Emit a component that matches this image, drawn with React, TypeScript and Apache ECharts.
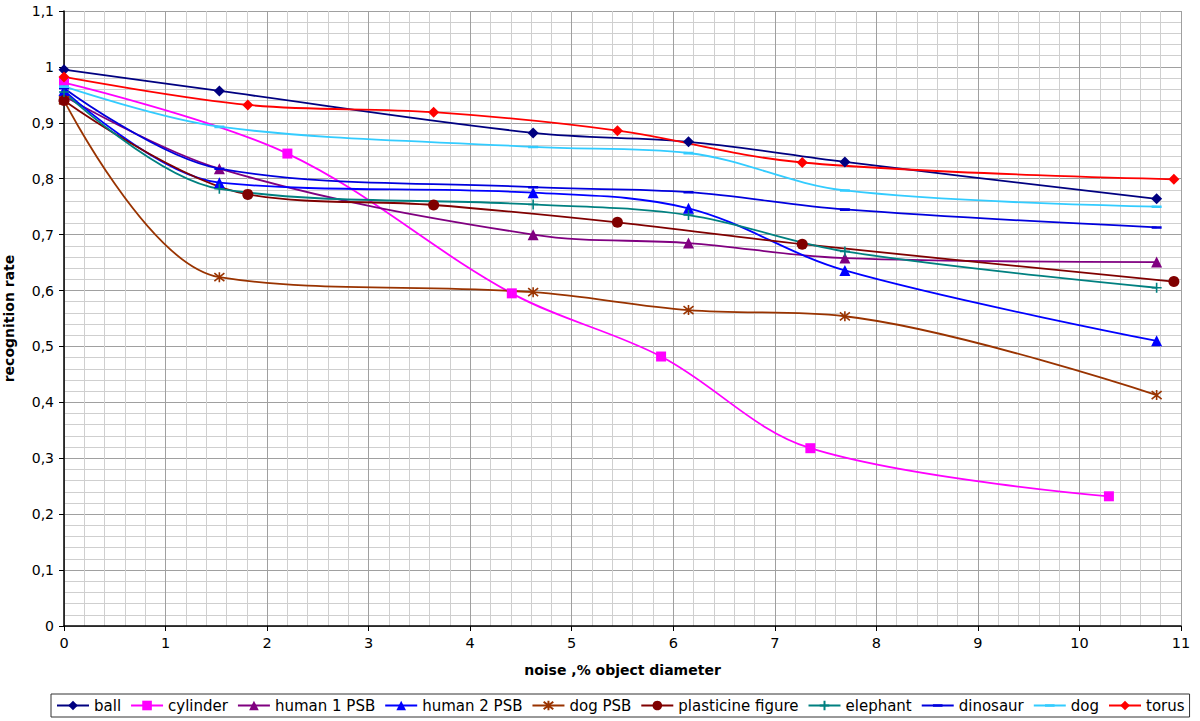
import React, { useEffect, useRef } from 'react';
import * as echarts from 'echarts';

// x positions (noise, % object diameter) used by the series
const xStd = [0, 1.53, 4.62, 6.15, 7.69, 10.76];
const xCyl = [0, 2.2, 4.41, 5.88, 7.35, 10.29];
const xPla = [0, 1.81, 3.64, 5.45, 7.27, 10.93];

// recognition rates
const ball = [0.995, 0.957, 0.882, 0.866, 0.83, 0.764];
const cylinder = [0.972, 0.845, 0.595, 0.482, 0.318, 0.232];
const human1 = [0.948, 0.818, 0.7, 0.685, 0.658, 0.651];
const human2 = [0.958, 0.793, 0.775, 0.747, 0.636, 0.51];
const dogPSB = [0.94, 0.624, 0.597, 0.565, 0.554, 0.413];
const plasticine = [0.94, 0.772, 0.753, 0.722, 0.683, 0.616];
const elephant = [0.955, 0.782, 0.754, 0.735, 0.67, 0.605];
const dinosaur = [0.962, 0.818, 0.785, 0.776, 0.745, 0.713];
const dog = [0.965, 0.893, 0.857, 0.846, 0.779, 0.75];
const torus = [0.982, 0.932, 0.919, 0.886, 0.829, 0.799];

const seriesNames = ['ball', 'cylinder', 'human 1 PSB', 'human 2 PSB', 'dog PSB', 'plasticine figure', 'elephant', 'dinosaur', 'dog', 'torus'];

const FONT = '"DejaVu Sans", Verdana, sans-serif';

const zip = (xs: number[], ys: number[]) => xs.map((x, i) => [x, ys[i]]);

const fmt = (v: number) => String(Math.round(v * 10) / 10).replace('.', ',');

export default function App() {
  const ref = useRef<HTMLDivElement>(null);
  useEffect(() => {
    if (!ref.current) return;
    const chart = echarts.init(ref.current, undefined, { renderer: 'svg' });

    const mk = (
      name: string,
      xs: number[],
      ys: number[],
      color: string,
      symbol: string,
      symbolSize: number,
      stroke = false
    ) => ({
      name,
      type: 'line',
      data: zip(xs, ys),
      smooth: 0.35,
      symbol,
      symbolSize,
      lineStyle: { color, width: 1.8 },
      itemStyle: stroke
        ? { color, borderColor: color, borderWidth: 1.6 }
        : { color, borderColor: color, borderWidth: 0 },
      emphasis: { disabled: true },
    });

    const star = 'path://M1,1L9,9M9,1L1,9M5,0L5,10';
    const plus = 'path://M5,0L5,10M0,5L10,5';
    const dash = 'path://M0,0L0.01,0L0.01,0.01L0,0.01Z M0,3.8L10,3.8L10,6.4L0,6.4Z M9.99,9.99L10,9.99L10,10L9.99,10Z';

    chart.setOption({
      animation: false,
      backgroundColor: '#ffffff',
      textStyle: { fontFamily: FONT },
      grid: { left: 64, right: 19, top: 11, bottom: 95, outerBoundsMode: 'none' },
      legend: {
        left: 51,
        top: 694,
        orient: 'horizontal',
        itemWidth: 32,
        itemHeight: 12,
        itemGap: 9,
        padding: [4, 5, 4, 5],
        borderColor: '#333333',
        borderWidth: 1,
        textStyle: { fontSize: 15, color: '#000', fontFamily: FONT },
        data: seriesNames,
      },
      xAxis: {
        type: 'value',
        min: 0,
        max: 11,
        interval: 1,
        name: 'noise ,% object diameter',
        nameLocation: 'middle',
        nameGap: 37,
        nameTextStyle: { fontSize: 14, fontWeight: 'bold', color: '#000', fontFamily: FONT },
        axisLine: { show: true, onZero: false, lineStyle: { color: '#000', width: 1.5 } },
        axisTick: { show: true, length: 5, lineStyle: { color: '#000' } },
        axisLabel: { fontSize: 14.5, color: '#000', margin: 9, fontFamily: FONT },
        splitLine: { show: true, lineStyle: { color: '#a0a0a0', width: 1 } },
        minorTick: { show: false, splitNumber: 5 },
        minorSplitLine: { show: true, lineStyle: { color: '#cfcfcf', width: 1 } },
      },
      yAxis: {
        type: 'value',
        min: 0,
        max: 1.1,
        interval: 0.1,
        name: 'recognition rate',
        nameLocation: 'middle',
        nameGap: 48,
        nameTextStyle: { fontSize: 14, fontWeight: 'bold', color: '#000', fontFamily: FONT },
        axisLine: { show: true, onZero: false, lineStyle: { color: '#000', width: 1.5 } },
        axisTick: { show: true, length: 5, lineStyle: { color: '#000' } },
        axisLabel: { fontSize: 14, color: '#000', margin: 10, fontFamily: FONT, formatter: fmt },
        splitLine: { show: true, lineStyle: { color: '#a0a0a0', width: 1 } },
        minorTick: { show: false, splitNumber: 5 },
        minorSplitLine: { show: true, lineStyle: { color: '#cfcfcf', width: 1 } },
      },
      series: [
        mk('ball', xStd, ball, '#000080', 'diamond', 11),
        mk('cylinder', xCyl, cylinder, '#ff00ff', 'rect', 10),
        mk('human 1 PSB', xStd, human1, '#800080', 'triangle', 11),
        mk('human 2 PSB', xStd, human2, '#0000ff', 'triangle', 11),
        mk('dog PSB', xStd, dogPSB, '#993300', star, 10, true),
        mk('plasticine figure', xPla, plasticine, '#800000', 'circle', 11),
        mk('elephant', xStd, elephant, '#008080', plus, 10, true),
        mk('dinosaur', xStd, dinosaur, '#0000dd', dash, 10),
        mk('dog', xStd, dog, '#33ccff', dash, 10),
        mk('torus', xPla, torus, '#ff0000', 'diamond', 11),
      ],
    });
    return () => chart.dispose();
  }, []);

  return (
    <div
      ref={ref}
      style={{ position: 'fixed', left: 0, top: 0, width: 1200, height: 721, background: '#fff' }}
    />
  );
}
